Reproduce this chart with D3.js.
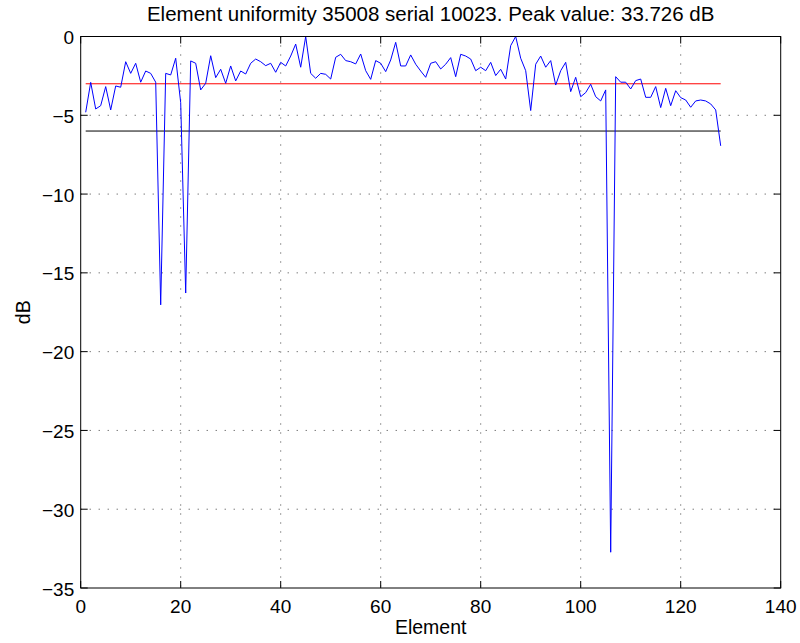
<!DOCTYPE html>
<html>
<head>
<meta charset="utf-8">
<script src="https://cdn.jsdelivr.net/npm/d3@7"></script>
<style>
  body { margin: 0; background: #fff; }
  svg { display: block; font-family: "Liberation Sans", Arial, Helvetica, sans-serif; }
  .tick-label { font-size: 19px; fill: #000; }
  .axis-title { font-size: 19.5px; fill: #000; }
  .plot-title { font-size: 20.5px; fill: #000; }
  .grid { stroke: #000; stroke-width: 1; stroke-dasharray: 1 8; stroke-opacity: 0.75; }
</style>
</head>
<body>
<svg id="chart"></svg>
<script>
// Element uniformity, dB relative to peak (element 1..128)
const uniformity = [
  -4.81, -2.91, -4.60, -4.39, -3.18, -4.66, -3.14, -3.22, -1.60, -2.34,
  -1.70, -2.90, -2.19, -2.34, -2.90, -17.03, -2.34, -2.44, -1.38, -4.20,
  -16.28, -1.55, -1.70, -3.39, -2.97, -1.22, -2.61, -2.08, -2.97, -1.87,
  -2.82, -2.19, -2.38, -1.70, -1.43, -1.60, -1.85, -1.70, -2.27, -1.64,
  -1.87, -1.24, -0.48, -1.95, 0.00, -2.34, -2.65, -2.34, -2.40, -2.70,
  -1.32, -1.13, -1.53, -1.60, -1.74, -1.11, -2.17, -2.72, -1.53, -1.70,
  -2.23, -1.49, -0.37, -1.87, -1.87, -1.17, -1.76, -2.19, -2.59, -1.70,
  -1.60, -2.06, -1.76, -1.34, -2.55, -1.13, -1.24, -1.43, -2.17, -1.95,
  -2.17, -1.64, -2.48, -2.08, -2.70, -0.58, 0.00, -1.38, -2.17, -4.70,
  -1.76, -1.24, -1.95, -1.53, -3.08, -2.17, -1.64, -3.50, -2.59, -3.82,
  -3.56, -3.03, -3.82, -4.09, -3.39, -32.73, -2.55, -2.90, -2.90, -3.33,
  -2.80, -2.70, -3.86, -3.86, -3.18, -4.51, -3.29, -4.39, -3.44, -3.88,
  -4.03, -4.49, -4.09, -4.03, -4.09, -4.28, -4.66, -6.94
];
// limit lines: [level dB, colour]
const limitLevels = [-3, -6];
const limitColors = ['#ff0000', '#000000'];

const xTicks = [0, 20, 40, 60, 80, 100, 120, 140];
const yTicks = [-35, -30, -25, -20, -15, -10, -5, 0];

const titleText = 'Element uniformity 35008 serial 10023. Peak value: 33.726 dB';
const xLabel = 'Element';
const yLabel = 'dB';

const totalW = 800, totalH = 643;
const mg = { top: 36.5, right: 19.3, bottom: 55, left: 80.7 };
const W = totalW - mg.left - mg.right;
const H = totalH - mg.top - mg.bottom;
const tickLen = 7;

const svg = d3.select('#chart').attr('width', totalW).attr('height', totalH);
svg.append('rect').attr('width', totalW).attr('height', totalH).attr('fill', '#fff');

const g = svg.append('g').attr('transform', `translate(${mg.left},${mg.top})`);

const x = d3.scaleLinear().domain([0, 140]).range([0, W]);
const y = d3.scaleLinear().domain([-35, 0]).range([H, 0]);
const fmt = (v) => (v < 0 ? '\u2212' + Math.abs(v) : String(v));

// grid
xTicks.slice(1, -1).forEach((t) => {
  g.append('line').attr('class', 'grid')
    .attr('x1', x(t)).attr('x2', x(t)).attr('y1', 0).attr('y2', H);
});
yTicks.slice(1, -1).forEach((t) => {
  g.append('line').attr('class', 'grid')
    .attr('x1', 0).attr('x2', W).attr('y1', y(t)).attr('y2', y(t));
});

// ticks on all four sides, pointing inward
xTicks.forEach((t) => {
  g.append('line').attr('x1', x(t)).attr('x2', x(t)).attr('y1', H).attr('y2', H - tickLen).attr('stroke', '#000');
  g.append('line').attr('x1', x(t)).attr('x2', x(t)).attr('y1', 0).attr('y2', tickLen).attr('stroke', '#000');
  g.append('text').attr('class', 'tick-label').attr('x', x(t)).attr('y', H + 25)
    .attr('text-anchor', 'middle').text(fmt(t));
});
yTicks.forEach((t) => {
  g.append('line').attr('x1', 0).attr('x2', tickLen).attr('y1', y(t)).attr('y2', y(t)).attr('stroke', '#000');
  g.append('line').attr('x1', W).attr('x2', W - tickLen).attr('y1', y(t)).attr('y2', y(t)).attr('stroke', '#000');
  g.append('text').attr('class', 'tick-label').attr('x', -6.5).attr('y', y(t) + 7.5)
    .attr('text-anchor', 'end').text(fmt(t));
});

// limit lines across the element range
limitLevels.forEach((lv, i) => {
  g.append('line')
    .attr('x1', x(1)).attr('x2', x(uniformity.length))
    .attr('y1', y(lv)).attr('y2', y(lv))
    .attr('stroke', limitColors[i]).attr('stroke-width', 1);
});

// uniformity curve
const line = d3.line().x((d, i) => x(i + 1)).y((d) => y(d));
g.append('path').datum(uniformity).attr('d', line)
  .attr('fill', 'none').attr('stroke', '#0000ff').attr('stroke-width', 1);

// box
g.append('rect').attr('x', 0).attr('y', 0).attr('width', W).attr('height', H)
  .attr('fill', 'none').attr('stroke', '#000').attr('stroke-width', 1);

// titles
svg.append('text').attr('class', 'plot-title').attr('x', mg.left + W / 2).attr('y', 21)
  .attr('text-anchor', 'middle').text(titleText);
svg.append('text').attr('class', 'axis-title').attr('x', mg.left + W / 2).attr('y', 634)
  .attr('text-anchor', 'middle').text(xLabel);
svg.append('text').attr('class', 'axis-title')
  .attr('transform', `translate(${30},${mg.top + H / 2}) rotate(-90)`)
  .attr('text-anchor', 'middle').text(yLabel);
</script>
</body>
</html>
